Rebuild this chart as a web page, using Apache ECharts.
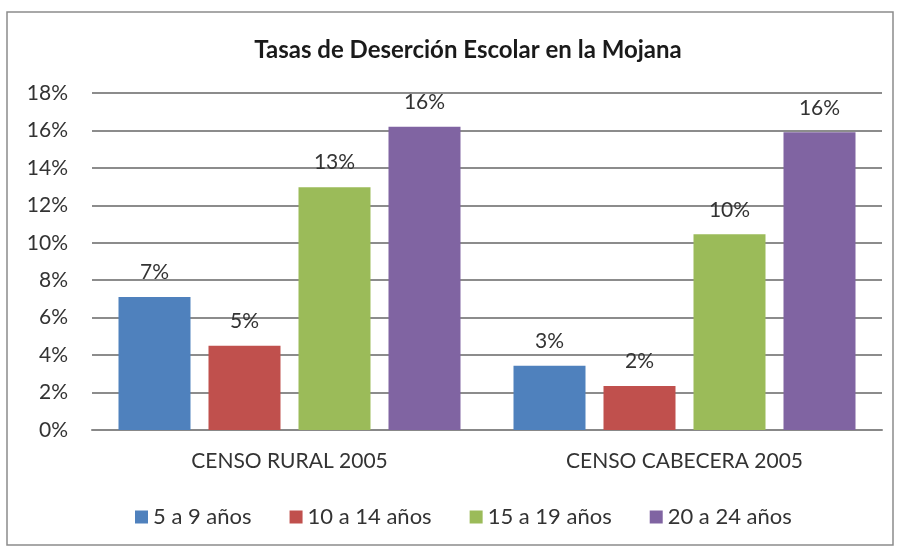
<!DOCTYPE html>
<html><head><meta charset="utf-8">
<script src="https://cdn.jsdelivr.net/npm/echarts@6/dist/echarts.min.js"></script>
<style>html,body{margin:0;padding:0;background:#fff}#c{width:900px;height:548px}</style>
</head><body><div id="c"></div>
<script>
var categories = ['CENSO RURAL 2005', 'CENSO CABECERA 2005'];
var seriesNames = ['5 a 9 años', '10 a 14 años', '15 a 19 años', '20 a 24 años'];
var s5a9 = [7.1, 3.43];
var s10a14 = [4.5, 2.35];
var s15a19 = [12.97, 10.45];
var s20a24 = [16.2, 15.9];
var colors = ['#4f81bd', '#c0504d', '#9bbb59', '#8064a2'];
var FONT = 'Lato';
var chart = echarts.init(document.getElementById('c'));
var dataSets = [s5a9, s10a14, s15a19, s20a24];
chart.setOption({
  animation: false,
  title: {text: 'Tasas de Deserción Escolar en la Mojana', left: 463, textAlign: 'center', top: 33,
    textStyle: {fontFamily: FONT, fontSize: 24, fontWeight: 'bold', color: '#1a1a1a'}},
  graphic: [{type: 'rect', shape: {x: 7, y: 12, width: 886, height: 533},
    style: {fill: 'none', stroke: '#8c8c8c', lineWidth: 1.5}, silent: true}],
  grid: {left: 92, right: 18, top: 93, bottom: 118},
  legend: {top: 501, left: 130, itemWidth: 13, itemHeight: 13, itemGap: 38, icon: 'rect',
    textStyle: {fontFamily: FONT, fontSize: 22, color: '#333'}, data: seriesNames},
  xAxis: {type: 'category', data: categories,
    axisLine: {lineStyle: {color: '#888', width: 2}}, axisTick: {show: false},
    axisLabel: {fontFamily: FONT, fontSize: 21, color: '#333', margin: 21}},
  yAxis: {type: 'value', min: 0, max: 18, interval: 2,
    axisLine: {show: false}, axisTick: {show: false},
    axisLabel: {formatter: '{value}%', fontFamily: FONT, fontSize: 21, color: '#333', margin: 24},
    splitLine: {lineStyle: {color: '#8c8c8c', width: 2}}},
  series: dataSets.map(function (d, i) {
    return {name: seriesNames[i], type: 'bar', data: d, barWidth: 72, barGap: '25%',
      itemStyle: {color: colors[i]},
      label: {show: true, position: 'top', distance: 14, fontFamily: FONT, fontSize: 21, color: '#333',
        formatter: function (p) { return Math.round(p.value) + '%'; }}};
  })
});
</script></body></html>
